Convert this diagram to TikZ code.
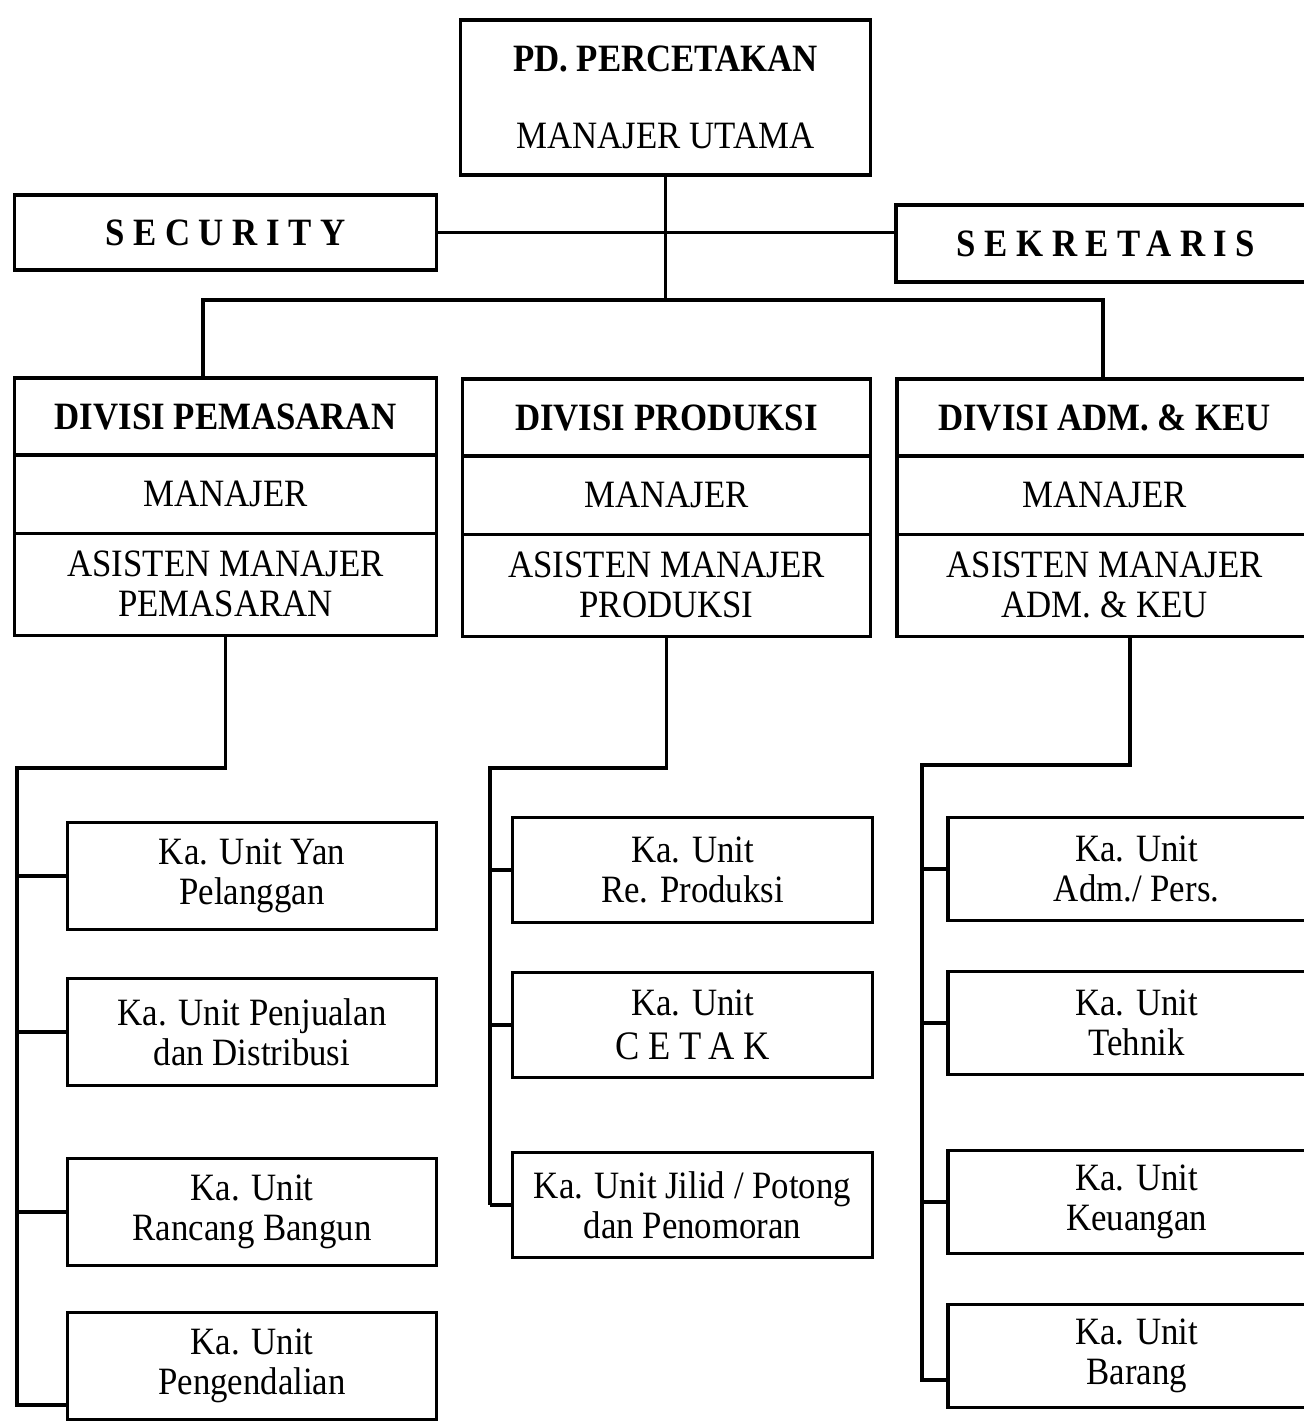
\documentclass[tikz,border=0pt]{standalone}
\usepackage{fontspec}
\setmainfont[FakeStretch=0.9]{Liberation Serif}
\newfontfamily\spacedfont[FakeStretch=0.9,LetterSpace=22]{Liberation Serif}
\usetikzlibrary{positioning}

\begin{document}
\begin{tikzpicture}[x=0.01cm, y=-0.01cm,
  box/.style={draw, line width=0.9pt, align=center, inner sep=0pt, outer sep=0pt, font=\fontsize{11}{11.5}\selectfont},
  divhead/.style={box, minimum height=0.77cm, font=\fontsize{11}{11.5}\selectfont\bfseries},
  divrow/.style={box, minimum height=0.78cm},
  divlast/.style={box, minimum height=1.02cm},
  unitl/.style={box, minimum width=3.68cm, minimum height=1.07cm},
  unitm/.style={box, minimum width=3.59cm, minimum height=1.05cm},
  unitr/.style={box, minimum width=3.77cm, minimum height=1.03cm, anchor=west},
  link/.style={line width=0.9pt}
]

\useasboundingbox (0,0) rectangle (1303,1425);

% top
\node[box, minimum width=4.09cm, minimum height=1.55cm] (utama) at (665.5,97.5)
  {\textbf{PD. PERCETAKAN}\\[10.5pt] MANAJER UTAMA};

\node[box, minimum width=4.21cm, minimum height=0.75cm] (security) at (225.5,232.5)
  {\spacedfont\bfseries SECURITY};
\node[box, minimum width=4.2cm, minimum height=0.77cm, anchor=west] (sekretaris) at (896,243.5)
  {\spacedfont\bfseries SEKRETARIS};

% divisions
\node[divhead, minimum width=4.21cm, anchor=north] (pemh) at (225.5,378) {DIVISI PEMASARAN};
\node[divrow, minimum width=4.21cm, below=0pt of pemh] (pemm) {MANAJER};
\node[divlast, minimum width=4.21cm, below=0pt of pemm] (pema) {ASISTEN MANAJER\\PEMASARAN};

\node[divhead, minimum width=4.07cm, anchor=north] (proh) at (666.5,379) {DIVISI PRODUKSI};
\node[divrow, minimum width=4.07cm, below=0pt of proh] (prom) {MANAJER};
\node[divlast, minimum width=4.07cm, below=0pt of prom] (proa) {ASISTEN MANAJER\\PRODUKSI};

\node[divhead, minimum width=4.15cm, anchor=north west] (admh) at (897,379) {DIVISI ADM. \& KEU};
\node[divrow, minimum width=4.15cm, below=0pt of admh] (admm) {MANAJER};
\node[divlast, minimum width=4.15cm, below=0pt of admm] (adma) {ASISTEN MANAJER\\ADM. \& KEU};

% units
\node[unitl] (pl1) at (252,876) {Ka. Unit Yan\\Pelanggan};
\node[unitl] (pl2) at (252,1032) {Ka. Unit Penjualan\\dan Distribusi};
\node[unitl] (pl3) at (252,1212) {Ka. Unit\\Rancang Bangun};
\node[unitl] (pl4) at (252,1366) {Ka. Unit\\Pengendalian};

\node[unitm] (pr1) at (692.5,870) {Ka. Unit\\Re. Produksi};
\node[unitm] (pr2) at (692.5,1025) {Ka. Unit\\[1pt]{\spacedfont\fontsize{11.5}{11.5}\selectfont CETAK}};
\node[unitm] (pr3) at (692.5,1205) {Ka. Unit Jilid / Potong\\dan Penomoran};

\node[unitr] (ad1) at (948,869) {Ka. Unit\\Adm./ Pers.};
\node[unitr] (ad2) at (948,1023) {Ka. Unit\\Tehnik};
\node[unitr] (ad3) at (948,1202) {Ka. Unit\\Keuangan};
\node[unitr] (ad4) at (948,1356) {Ka. Unit\\Barang};

%lines
\coordinate (busl) at (203,300);
\coordinate (busr) at (1103,300);
\draw[link] (utama.south) -- (utama.south |- busl);
\draw[link] (security.east) -- (security.east -| sekretaris.west);
\draw[link] (busl |- pemh.north) -- (busl) -- (busr) -- (busr |- admh.north);

% left
\coordinate (lturn) at (17,768);
\coordinate (lend) at (17,1405);
\draw[link] (pema.south) |- (lturn) -- (lend) -- (lend -| pl4.west);
\foreach \u in {pl1,pl2,pl3}
  \draw[link] (\u.west -| lturn) -- (\u.west);

% middle
\coordinate (mturn) at (490,768);
\draw[link] (proa.south) |- (mturn) -- (mturn |- pr3.west);
\foreach \u in {pr1,pr2,pr3}
  \draw[link] (\u.west -| mturn) -- (\u.west);

% right
\coordinate (rtop) at (1130,700);
\coordinate (rturn) at (922,765);
\coordinate (rend) at (922,1380);
\draw[link] (adma.south -| rtop) |- (rturn) -- (rend) -- (rend -| ad4.west);
\foreach \u in {ad1,ad2,ad3}
  \draw[link] (\u.west -| rturn) -- (\u.west);

\end{tikzpicture}
\end{document}
